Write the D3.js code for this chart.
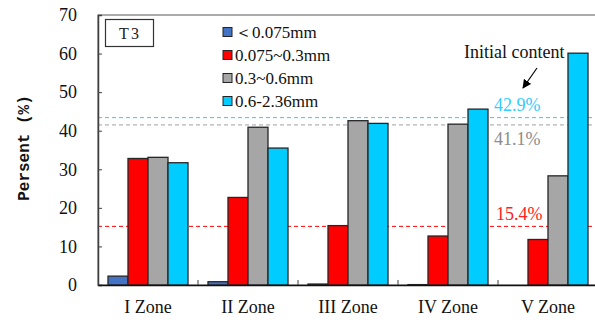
<!DOCTYPE html>
<html>
<head>
<meta charset="utf-8">
<script src="https://cdn.jsdelivr.net/npm/d3@7"></script>
<style>
  body { margin: 0; background: #fff; overflow: hidden; }
  svg { display: block; }
  .serif { font-family: "Liberation Serif", "Times New Roman", serif; }
</style>
</head>
<body>
<div id="chart"></div>
<script>
const zones = ['I Zone', 'II Zone', 'III Zone', 'IV Zone', 'V Zone'];
const sizes = ['＜0.075mm', '0.075~0.3mm', '0.3~0.6mm', '0.6-2.36mm'];
const fine = [2.3, 0.85, 0.25, 0.1, 0];
const small = [32.8, 22.7, 15.4, 12.7, 11.8];
const medium = [33.1, 40.9, 42.6, 41.7, 28.3];
const coarse = [31.7, 35.5, 41.9, 45.6, 60.1];
const yTicks = [0, 10, 20, 30, 40, 50, 60, 70];
const refValues = [43.4, 41.5, 15.2];
const refLabels = ['42.9%', '41.1%', '15.4%'];

const COLORS = ['#4472C4', '#FF0000', '#A6A6A6', '#00CCFF'];
const REF_COLORS = ['#33CCFF', '#A0A0A0', '#FF0000'];
const LABEL_COLORS = ['#33CCFF', '#8C8C8C', '#FF2020'];

const series = [fine, small, medium, coarse];
const width = 595, height = 323;
const plotLeft = 98, plotRight = 598, plotTop = 15, plotBottom = 285;

const svg = d3.select('#chart').append('svg')
  .attr('width', width).attr('height', height);

const x = d3.scaleBand().domain(zones).range([plotLeft, plotRight])
  .paddingInner(0.2).paddingOuter(0.1);
const xs = d3.scaleBand().domain(d3.range(series.length)).range([0, x.bandwidth()]);
const y = d3.scaleLinear().domain([0, 70]).range([plotBottom, plotTop]);

// plot frame
svg.append('rect')
  .attr('x', plotLeft).attr('y', plotTop)
  .attr('width', plotRight - plotLeft).attr('height', plotBottom - plotTop)
  .attr('fill', 'none').attr('stroke', '#595959').attr('stroke-width', 1);

// reference lines
svg.append('g').selectAll('line').data(refValues).join('line')
  .attr('x1', plotLeft).attr('x2', plotRight)
  .attr('y1', d => y(d)).attr('y2', d => y(d))
  .attr('stroke', (d, i) => REF_COLORS[i])
  .attr('stroke-width', 1)
  .attr('stroke-dasharray', '4,3');

// bars
const groups = svg.append('g').selectAll('g').data(zones).join('g')
  .attr('transform', z => `translate(${x(z)},0)`);
groups.selectAll('rect')
  .data((z, zi) => series.map((s, si) => ({ si, v: s[zi] })).filter(d => d.v > 0))
  .join('rect')
  .attr('x', d => xs(d.si))
  .attr('width', xs.bandwidth())
  .attr('y', d => y(d.v))
  .attr('height', d => y(0) - y(d.v))
  .attr('fill', d => COLORS[d.si])
  .attr('stroke', '#262626')
  .attr('stroke-width', 1.3);

// axes
const yAxis = svg.append('g')
  .attr('transform', `translate(${plotLeft},0)`)
  .call(d3.axisLeft(y).tickValues(yTicks).tickSize(-4).tickPadding(21));
yAxis.select('.domain').attr('stroke', '#404040').attr('stroke-width', 1.5);
yAxis.selectAll('.tick line').attr('stroke', '#404040');
yAxis.selectAll('text')
  .attr('class', 'serif').attr('font-family', null)
  .style('font-size', '18px').attr('fill', '#111');

const xAxis = svg.append('g')
  .attr('transform', `translate(0,${plotBottom})`)
  .call(d3.axisBottom(x).tickSize(0).tickPadding(15));
xAxis.select('.domain').attr('stroke', '#111').attr('stroke-width', 1.5);
xAxis.selectAll('text')
  .attr('class', 'serif')
  .style('font-size', '18px').attr('fill', '#111');
yAxis.attr('font-family', null);
xAxis.attr('font-family', null);

// category separators (inward ticks)
svg.append('g').selectAll('line').data(zones.slice(1)).join('line')
  .attr('x1', z => x(z) - x.step() * 0.1).attr('x2', z => x(z) - x.step() * 0.1)
  .attr('y1', plotBottom).attr('y2', plotBottom - 5)
  .attr('stroke', '#404040').attr('stroke-width', 1);

// y label
svg.append('text')
  .attr('transform', `translate(29,148) rotate(-90)`)
  .attr('text-anchor', 'middle')
  .style('font-family', '"Liberation Mono", "Courier New", monospace')
  .style('font-weight', 'bold')
  .style('font-size', '16px')
  .attr('fill', '#111')
  .text('Persent (%)');

// T3 box
svg.append('rect')
  .attr('x', 105.5).attr('y', 19.5).attr('width', 48).attr('height', 27)
  .attr('fill', '#fff').attr('stroke', '#333').attr('stroke-width', 1.2);
svg.append('text')
  .attr('class', 'serif')
  .attr('x', 130).attr('y', 39).attr('text-anchor', 'middle')
  .style('font-size', '16px')
  .attr('letter-spacing', 2).attr('fill', '#222')
  .text('T3');

// legend
const legend = svg.append('g').attr('transform', 'translate(223,32)');
const li = legend.selectAll('g').data(sizes).join('g')
  .attr('transform', (d, i) => `translate(0,${i * 23})`);
li.append('rect')
  .attr('x', 0).attr('y', -4.5).attr('width', 9).attr('height', 9)
  .attr('fill', (d, i) => COLORS[i]).attr('stroke', '#222').attr('stroke-width', 1);
li.append('text')
  .attr('class', 'serif')
  .attr('x', 12).attr('y', 6)
  .style('font-size', '17px')
  .attr('fill', '#111')
  .text(d => d);

// reference labels
const refPos = [[494, 111], [494, 145], [496, 220]];
svg.append('g').selectAll('text').data(refLabels).join('text')
  .attr('class', 'serif')
  .attr('x', (d, i) => refPos[i][0]).attr('y', (d, i) => refPos[i][1])
  .style('font-size', '18px')
  .attr('fill', (d, i) => LABEL_COLORS[i])
  .text(d => d);

// annotation
svg.append('text')
  .attr('class', 'serif')
  .attr('x', 464).attr('y', 58)
  .style('font-size', '18px')
  .attr('fill', '#111')
  .text('Initial content');
svg.append('defs').append('marker')
  .attr('id', 'arr').attr('viewBox', '0 0 10 10')
  .attr('refX', 9).attr('refY', 5)
  .attr('markerWidth', 9).attr('markerHeight', 9)
  .attr('markerUnits', 'userSpaceOnUse')
  .attr('orient', 'auto')
  .append('path').attr('d', 'M0,0L10,5L0,10z').attr('fill', '#000');
svg.append('line')
  .attr('x1', 537).attr('y1', 68).attr('x2', 523).attr('y2', 88)
  .attr('stroke', '#000').attr('stroke-width', 1.2)
  .attr('marker-end', 'url(#arr)');
</script>
</body>
</html>
